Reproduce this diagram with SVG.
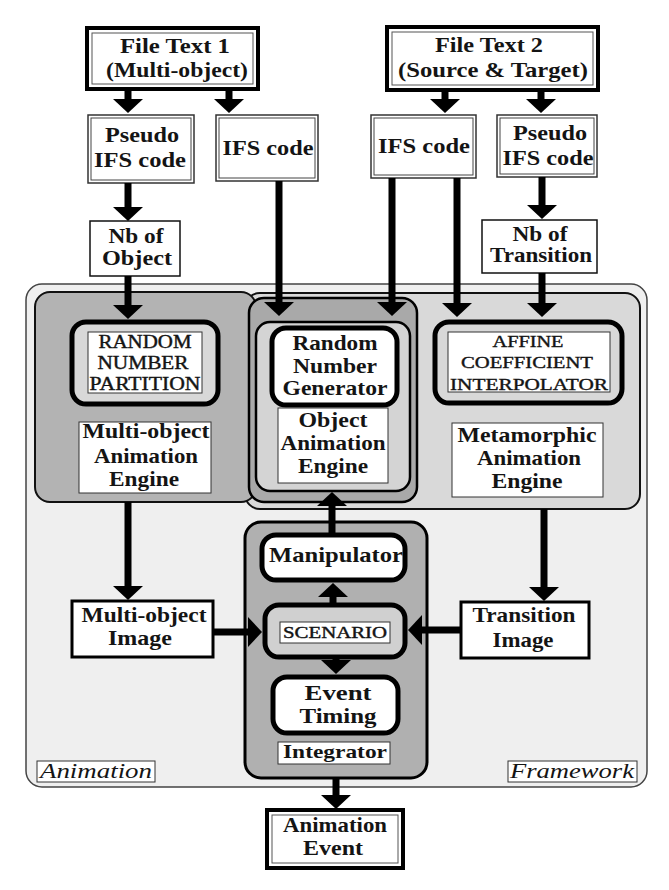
<svg xmlns="http://www.w3.org/2000/svg" width="669" height="890" viewBox="0 0 669 890">
<defs>
<style>
text{font-family:"Liberation Serif","Times New Roman",serif;fill:#141414;text-anchor:middle}
.b{font-weight:bold}
.f22{font-size:22px}.f21{font-size:21px}.f20{font-size:20px}.f18{font-size:18px}.f17{font-size:17px}.f16{font-size:16px}.f19{font-size:19px}
.cap{stroke:#141414;stroke-width:0.4}
.it{font-style:italic;font-size:20px}
.dbl-o{fill:#fff;stroke:#000;stroke-width:4}
.dbl-i{fill:none;stroke:#555;stroke-width:1}
.thin-o{fill:#fff;stroke:#333;stroke-width:1.5}
.thin-i{fill:none;stroke:#444;stroke-width:1}
.single{fill:#fff;stroke:#111;stroke-width:1.5}
.med{fill:#fff;stroke:#000;stroke-width:3}
.lbl{fill:#fff;stroke:#333;stroke-width:1}
.thick{stroke:#000;stroke-width:5}
.conn line{stroke:#000;stroke-width:7;stroke-linecap:butt;marker-end:url(#ah)}
</style>
<marker id="ah" markerUnits="userSpaceOnUse" markerWidth="14" markerHeight="30" viewBox="0 0 14 30" refX="0" refY="15" orient="auto"><path d="M0,0 L14,15 L0,30 z" fill="#000"/></marker>
</defs>
<rect width="669" height="890" fill="#fff"/>

<g id="ft1">
<rect class="dbl-o" x="87" y="28" width="171" height="61"/>
<rect class="dbl-i" x="92" y="33" width="161" height="51"/>
<text class="b f22" x="175" y="53" textLength="110" lengthAdjust="spacingAndGlyphs">File Text 1</text>
<text class="b f22" x="177" y="77" textLength="142" lengthAdjust="spacingAndGlyphs">(Multi-object)</text>
</g>
<g id="ft2">
<rect class="dbl-o" x="387" y="27" width="211" height="63"/>
<rect class="dbl-i" x="392" y="32" width="201" height="53"/>
<text class="b f22" x="489" y="52" textLength="108" lengthAdjust="spacingAndGlyphs">File Text 2</text>
<text class="b f22" x="493" y="77" textLength="190" lengthAdjust="spacingAndGlyphs">(Source &amp; Target)</text>
</g>
<g id="pseudo1">
<rect class="thin-o" x="88" y="115" width="106" height="68"/>
<rect class="thin-i" x="91" y="118" width="100" height="62"/>
<text class="b f22" x="142" y="142" textLength="74" lengthAdjust="spacingAndGlyphs">Pseudo</text>
<text class="b f22" x="140" y="167" textLength="92" lengthAdjust="spacingAndGlyphs">IFS code</text>
</g>
<g id="ifs1">
<rect class="thin-o" x="216" y="115" width="102" height="66"/>
<rect class="thin-i" x="219" y="118" width="96" height="60"/>
<text class="b f22" x="268" y="155" textLength="91" lengthAdjust="spacingAndGlyphs">IFS code</text>
</g>
<g id="ifs2">
<rect class="thin-o" x="371" y="115" width="105" height="63"/>
<rect class="thin-i" x="374" y="118" width="99" height="57"/>
<text class="b f22" x="424" y="153" textLength="92" lengthAdjust="spacingAndGlyphs">IFS code</text>
</g>
<g id="pseudo2">
<rect class="thin-o" x="497" y="115" width="100" height="62"/>
<rect class="thin-i" x="500" y="118" width="94" height="56"/>
<text class="b f22" x="550" y="140" textLength="74" lengthAdjust="spacingAndGlyphs">Pseudo</text>
<text class="b f22" x="548" y="165" textLength="91" lengthAdjust="spacingAndGlyphs">IFS code</text>
</g>
<g id="nbobj">
<rect class="single" x="90" y="221" width="90" height="55"/>
<text class="b f20" x="136" y="243" textLength="55" lengthAdjust="spacingAndGlyphs">Nb of</text>
<text class="b f20" x="137" y="265" textLength="70" lengthAdjust="spacingAndGlyphs">Object</text>
</g>
<g id="nbtr">
<rect class="single" x="482" y="220" width="115" height="53"/>
<text class="b f20" x="540" y="241" textLength="55" lengthAdjust="spacingAndGlyphs">Nb of</text>
<text class="b f20" x="541" y="262" textLength="102" lengthAdjust="spacingAndGlyphs">Transition</text>
</g>

<g id="framework">
<rect x="26" y="284" width="621" height="503" rx="16" fill="#efefef" stroke="#444" stroke-width="1.5"/>
<rect class="lbl" x="37" y="761" width="118" height="21"/>
<text class="it" x="96" y="778" textLength="112" lengthAdjust="spacingAndGlyphs">Animation</text>
<rect class="lbl" x="508" y="761" width="129" height="21"/>
<text class="it" x="572" y="778" textLength="124" lengthAdjust="spacingAndGlyphs">Framework</text>
</g>

<g id="metamorphic-engine">
<rect x="245" y="293" width="395" height="216" rx="15" fill="#d9d9d9" stroke="#111" stroke-width="2"/>
</g>
<g id="multiobject-engine">
<rect x="35" y="292" width="221" height="210" rx="15" fill="#b3b3b3" stroke="#111" stroke-width="2"/>
<rect class="thick" x="72" y="322" width="146" height="82" rx="14" fill="#d8d8d8"/>
<rect class="lbl" x="88" y="332" width="114" height="61"/>
<text class="f18 cap" x="145" y="348" textLength="93" lengthAdjust="spacingAndGlyphs">RANDOM</text>
<text class="f18 cap" x="143" y="369" textLength="91" lengthAdjust="spacingAndGlyphs">NUMBER</text>
<text class="f18 cap" x="145" y="390" textLength="111" lengthAdjust="spacingAndGlyphs">PARTITION</text>
<rect class="lbl" x="79" y="422" width="132" height="71"/>
<text class="b f21" x="146" y="438" textLength="127" lengthAdjust="spacingAndGlyphs">Multi-object</text>
<text class="b f21" x="146" y="463" textLength="104" lengthAdjust="spacingAndGlyphs">Animation</text>
<text class="b f21" x="144" y="486" textLength="70" lengthAdjust="spacingAndGlyphs">Engine</text>
</g>
<g id="object-engine">
<rect x="249" y="298" width="168" height="204" rx="15" fill="#a9a9a9" stroke="#000" stroke-width="2.5"/>
<rect x="256" y="322" width="154" height="169" rx="14" fill="#d4d4d4" stroke="#000" stroke-width="2.5"/>
<rect class="thick" x="272" y="328" width="125" height="77" rx="14" fill="#fff"/>
<text class="b f21" x="335" y="350" textLength="85" lengthAdjust="spacingAndGlyphs">Random</text>
<text class="b f21" x="335" y="373" textLength="84" lengthAdjust="spacingAndGlyphs">Number</text>
<text class="b f21" x="335" y="395" textLength="105" lengthAdjust="spacingAndGlyphs">Generator</text>
<rect class="lbl" x="278" y="408" width="110" height="75"/>
<text class="b f21" x="333" y="427" textLength="69" lengthAdjust="spacingAndGlyphs">Object</text>
<text class="b f21" x="333" y="450" textLength="105" lengthAdjust="spacingAndGlyphs">Animation</text>
<text class="b f21" x="333" y="473" textLength="70" lengthAdjust="spacingAndGlyphs">Engine</text>
</g>
<g id="affine">
<rect class="thick" x="435" y="322" width="187" height="81" rx="14" fill="#d8d8d8"/>
<rect class="lbl" x="448" y="332" width="162" height="60"/>
<text class="f17 cap" x="528" y="347" textLength="71" lengthAdjust="spacingAndGlyphs">AFFINE</text>
<text class="f17 cap" x="527" y="368" textLength="132" lengthAdjust="spacingAndGlyphs">COEFFICIENT</text>
<text class="f17 cap" x="529" y="390" textLength="158" lengthAdjust="spacingAndGlyphs">INTERPOLATOR</text>
</g>
<g id="metamorphic-label">
<rect class="lbl" x="452" y="423" width="151" height="74"/>
<text class="b f21" x="527" y="442" textLength="139" lengthAdjust="spacingAndGlyphs">Metamorphic</text>
<text class="b f21" x="529" y="465" textLength="104" lengthAdjust="spacingAndGlyphs">Animation</text>
<text class="b f21" x="527" y="488" textLength="71" lengthAdjust="spacingAndGlyphs">Engine</text>
</g>

<g id="mo-image">
<rect class="med" x="72" y="601" width="141" height="56"/>
<text class="b f21" x="144" y="622" textLength="125" lengthAdjust="spacingAndGlyphs">Multi-object</text>
<text class="b f21" x="140" y="645" textLength="64" lengthAdjust="spacingAndGlyphs">Image</text>
</g>
<g id="tr-image">
<rect class="med" x="461" y="602" width="128" height="56"/>
<text class="b f21" x="524" y="622" textLength="103" lengthAdjust="spacingAndGlyphs">Transition</text>
<text class="b f21" x="523" y="647" textLength="61" lengthAdjust="spacingAndGlyphs">Image</text>
</g>

<g id="integrator">
<rect x="245" y="522" width="182" height="256" rx="16" fill="#b0b0b0" stroke="#000" stroke-width="3"/>
<rect class="thick" x="262" y="535" width="143" height="45" rx="14" fill="#fff"/>
<text class="b f22" x="336" y="562" textLength="134" lengthAdjust="spacingAndGlyphs">Manipulator</text>
<rect class="thick" x="265" y="605" width="140" height="52" rx="14" fill="#d0d0d0"/>
<rect class="lbl" x="280" y="622" width="110" height="21"/>
<text class="f16 cap" x="335" y="638" textLength="104" lengthAdjust="spacingAndGlyphs">SCENARIO</text>
<rect class="thick" x="273" y="677" width="125" height="56" rx="14" fill="#fff"/>
<text class="b f21" x="338" y="700" textLength="67" lengthAdjust="spacingAndGlyphs">Event</text>
<text class="b f21" x="338" y="723" textLength="77" lengthAdjust="spacingAndGlyphs">Timing</text>
<rect class="lbl" x="278" y="742" width="112" height="22"/>
<text class="b f19" x="335" y="758" textLength="104" lengthAdjust="spacingAndGlyphs">Integrator</text>
</g>

<g id="anim-event">
<rect class="dbl-o" x="267" y="810" width="136" height="58"/>
<rect class="dbl-i" x="272" y="815" width="126" height="48"/>
<text class="b f21" x="335" y="832" textLength="104" lengthAdjust="spacingAndGlyphs">Animation</text>
<text class="b f21" x="333" y="855" textLength="60" lengthAdjust="spacingAndGlyphs">Event</text>
</g>

<g id="connectors" class="conn">
<line x1="128" y1="89" x2="128" y2="99"/>
<line x1="229" y1="89" x2="229" y2="99"/>
<line x1="445" y1="90" x2="445" y2="99"/>
<line x1="541" y1="90" x2="541" y2="99"/>
<line x1="128" y1="183" x2="128" y2="207"/>
<line x1="542" y1="177" x2="542" y2="205"/>
<line x1="128" y1="276" x2="128" y2="305"/>
<line x1="279" y1="181" x2="279" y2="302"/>
<line x1="392" y1="178" x2="392" y2="302"/>
<line x1="457" y1="178" x2="457" y2="303"/>
<line x1="542" y1="273" x2="542" y2="303"/>
<line x1="128" y1="502" x2="128" y2="586"/>
<line x1="544" y1="509" x2="544" y2="587"/>
<line x1="213" y1="632" x2="248" y2="632"/>
<line x1="461" y1="630" x2="422" y2="630"/>
<line x1="332" y1="533" x2="332" y2="506"/>
<line x1="333" y1="603" x2="333" y2="597"/>
<line x1="336" y1="658" x2="336" y2="660"/>
<line x1="336" y1="778" x2="336" y2="795"/>
</g>
</svg>
